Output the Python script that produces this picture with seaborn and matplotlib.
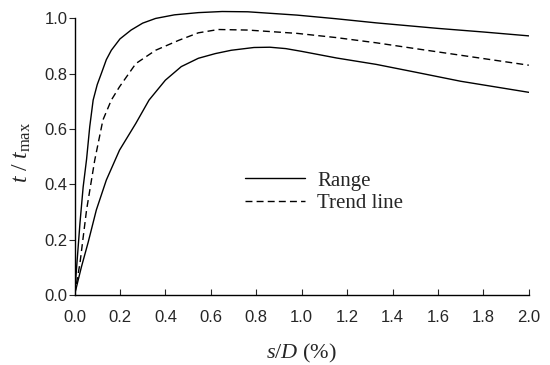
import pandas as pd
import seaborn as sns
import matplotlib.pyplot as plt

# values
upper_x = [0.0, 0.012, 0.024, 0.038, 0.053, 0.067, 0.082, 0.10, 0.118, 0.14, 0.162, 0.20, 0.249, 0.30,
           0.357, 0.44, 0.545, 0.65, 0.763, 0.98, 1.15, 1.328, 1.6, 1.8, 2.0]
upper_y = [0.0, 0.13, 0.26, 0.39, 0.49, 0.608, 0.704, 0.76, 0.80, 0.85, 0.884, 0.925, 0.957, 0.982,
           0.999, 1.012, 1.02, 1.024, 1.023, 1.011, 0.998, 0.983, 0.963, 0.95, 0.936]

lower_x = [0.0, 0.03, 0.06, 0.096, 0.14, 0.198, 0.27, 0.328, 0.40, 0.47, 0.545, 0.62, 0.69, 0.79,
           0.86, 0.93, 1.0, 1.154, 1.328, 1.5, 1.7, 1.85, 2.0]
lower_y = [0.0, 0.10, 0.19, 0.307, 0.415, 0.523, 0.62, 0.704, 0.776, 0.825, 0.855, 0.872, 0.884, 0.894,
           0.895, 0.89, 0.88, 0.856, 0.833, 0.805, 0.772, 0.752, 0.732]

trend_x = [0.0, 0.024, 0.053, 0.089, 0.125, 0.162, 0.198, 0.27, 0.357, 0.459, 0.545, 0.633, 0.763,
           0.98, 1.15, 1.328, 1.5, 1.7, 1.85, 2.0]
trend_y = [0.0, 0.115, 0.307, 0.487, 0.632, 0.704, 0.752, 0.836, 0.884, 0.92, 0.947, 0.959, 0.957,
           0.945, 0.93, 0.911, 0.89, 0.866, 0.848, 0.83]

sns.set_style("ticks")
plt.rcParams["font.family"] = ["Liberation Sans", "DejaVu Sans"]
plt.rcParams["mathtext.fontset"] = "custom"
plt.rcParams["mathtext.it"] = "Liberation Serif:italic"
plt.rcParams["mathtext.rm"] = "Liberation Serif"

fig = plt.figure(figsize=(5.5, 3.65), dpi=100)
ax = fig.add_axes([0.1355, 0.192, 0.826, 0.781])

sns.lineplot(x=upper_x, y=upper_y, color="black", lw=1.0, sort=False, ax=ax, label="Range")
sns.lineplot(x=lower_x, y=lower_y, color="black", lw=1.0, sort=False, ax=ax)
sns.lineplot(x=trend_x, y=trend_y, color="black", lw=1.0, sort=False, ax=ax,
             label="Trend line", linestyle=(0, (5, 3)))

ax.set_xlim(0, 2.0)
ax.set_ylim(0, 1.03)
ax.set_xticks([0.0, 0.2, 0.4, 0.6, 0.8, 1.0, 1.2, 1.4, 1.6, 1.8, 2.0])
ax.set_yticks([0.0, 0.2, 0.4, 0.6, 0.8, 1.0])
ax.xaxis.set_major_formatter(plt.FormatStrFormatter("%.1f"))
ax.yaxis.set_major_formatter(plt.FormatStrFormatter("%.1f"))
ax.tick_params(axis="x", direction="in", length=4, labelsize=12, pad=11)
ax.tick_params(axis="y", direction="out", length=4, labelsize=12, pad=1)

sns.despine(ax=ax)
ax.spines["left"].set_bounds(0, 1.0)
for s in ["left", "bottom"]:
    ax.spines[s].set_linewidth(1.0)
    ax.spines[s].set_color("black")

ax.set_xlabel(r"$s/D$ (%)", fontsize=16, family="Liberation Serif", labelpad=12)
ax.set_ylabel(r"$t\ /\ t_{\rm max}$", fontsize=17, labelpad=8)

leg = ax.legend(loc="center", bbox_to_anchor=(0.55, 0.36), frameon=False,
                prop={"family": "Liberation Serif", "size": 15},
                handlelength=2.85, handletextpad=0.6, labelspacing=0.15)

fig.savefig("out.png", dpi=100)
